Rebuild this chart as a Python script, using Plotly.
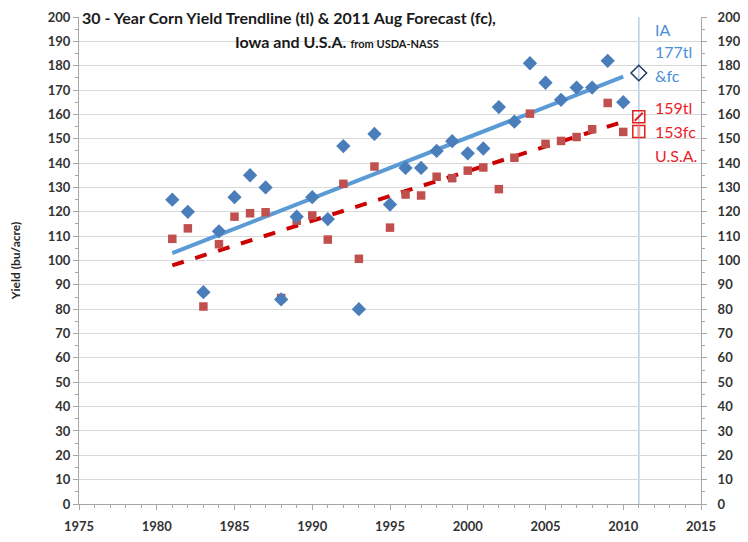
import plotly.graph_objects as go

years = list(range(1981, 2011))
iowa = [125, 120, 87, 112, 126, 135, 130, 84, 118, 126, 117, 147, 80, 152, 123,
        138, 138, 145, 149, 144, 146, 163, 157, 181, 173, 166, 171, 171, 182, 165]
usa = [108.9, 113.2, 81.1, 106.7, 118.0, 119.4, 119.8, 84.6, 116.3, 118.5, 108.6,
       131.5, 100.7, 138.6, 113.5, 127.1, 126.7, 134.4, 133.8, 136.9, 138.2, 129.3,
       142.2, 160.3, 147.9, 149.1, 150.7, 153.9, 164.7, 152.8]

trend_years = [1981, 2010]
iowa_trend = [103, 175.5]
usa_trend = [98, 157]

fc_year = 2011
iowa_fc = 177
usa_tl = 159
usa_fc = 153

FONT = "Lato"
fig = go.Figure()

# vertical 2011 line
fig.add_shape(type="line", x0=fc_year, x1=fc_year, y0=-4, y1=200, xref="x", yref="y",
              line=dict(color="#b8cce4", width=1.5), layer="below")

fig.add_trace(go.Scatter(x=trend_years, y=iowa_trend, mode="lines",
                         line=dict(color="#5b9bd5", width=4), showlegend=False))
fig.add_trace(go.Scatter(x=trend_years, y=usa_trend, mode="lines",
                         line=dict(color="#cc0000", width=4, dash="dash"), showlegend=False))
fig.add_trace(go.Scatter(x=years, y=usa, mode="markers",
                         marker=dict(symbol="square", size=8.5, color="#c0504d"), showlegend=False))
fig.add_trace(go.Scatter(x=years, y=iowa, mode="markers",
                         marker=dict(symbol="diamond", size=11, color="#4a7ebb"), showlegend=False))

# 2011 markers
fig.add_trace(go.Scatter(x=[fc_year], y=[iowa_fc], mode="markers",
                         marker=dict(symbol="diamond-open", size=12, color="#1f3864",
                                     line=dict(width=1.5)), showlegend=False))
fig.add_trace(go.Scatter(x=[fc_year, fc_year], y=[usa_tl, usa_fc], mode="markers",
                         marker=dict(symbol="square-open", size=12, color="#e02020",
                                     line=dict(width=1.5)), showlegend=False))
fig.add_trace(go.Scatter(x=[fc_year], y=[usa_tl], mode="markers",
                         marker=dict(symbol="line-ne", size=8, color="#e02020",
                                     line=dict(width=2, color="#e02020")), showlegend=False))
fig.add_trace(go.Scatter(x=[fc_year], y=[usa_fc], mode="markers",
                         marker=dict(symbol="line-ns", size=8, color="#e8a0a0",
                                     line=dict(width=3, color="#e8a0a0")), showlegend=False))
# dummy for right axis
fig.add_trace(go.Scatter(x=[1975], y=[0], yaxis="y2", mode="markers",
                         marker=dict(opacity=0), showlegend=False, hoverinfo="skip"))

tickfont = dict(family=FONT, size=13, color="#333333", weight="bold")

fig.update_layout(
    width=740, height=534,
    margin=dict(l=71, r=47, t=9, b=38, autoexpand=False),
    paper_bgcolor="white", plot_bgcolor="white",
    font=dict(family=FONT),
    xaxis=dict(range=[1975, 2015], dtick=5, tick0=1975, showgrid=False, zeroline=False,
               ticks="outside", ticklen=5, tickcolor="#a6a6a6", ticklabelstandoff=5,
               showline=True, linecolor="#a6a6a6", linewidth=1,
               minor=dict(dtick=1, ticks="outside", ticklen=3, tickcolor="#a6a6a6"),
               tickfont=tickfont),
    yaxis=dict(range=[0, 200], dtick=10, showgrid=True, gridcolor="#d9d9d9", gridwidth=1,
               zeroline=False, ticks="outside", ticklen=5, tickcolor="#a6a6a6",
               showline=True, linecolor="#a6a6a6",
               minor=dict(dtick=5, ticks="outside", ticklen=3, tickcolor="#a6a6a6"),
               tickfont=tickfont,
               title=dict(text="Yield (bu/acre)", standoff=26,
                          font=dict(family=FONT, size=12, color="#262626", weight="bold"))),
    yaxis2=dict(range=[0, 200], dtick=10, overlaying="y", side="right", showgrid=False,
                zeroline=False, ticks="outside", ticklen=5, tickcolor="#a6a6a6",
                ticklabelstandoff=8,
                showline=True, linecolor="#a6a6a6",
                minor=dict(dtick=5, ticks="outside", ticklen=3, tickcolor="#a6a6a6"),
                tickfont=tickfont),
)

ann = []
ann.append(dict(x=0.002, y=200, xref="paper", yref="y", xanchor="left", yanchor="middle",
                text="<b>30 - Year Corn Yield Trendline (tl) &amp; 2011 Aug Forecast (fc),</b>",
                showarrow=False, font=dict(family=FONT, size=16, color="#1a1a1a")))
ann.append(dict(x=1991.6, y=190, xref="x", yref="y", xanchor="center", yanchor="middle",
                text="<b>Iowa and U.S.A.</b> <b><span style='font-size:11px'>from USDA-NASS</span></b>",
                showarrow=False, font=dict(family=FONT, size=16, color="#1a1a1a")))
right_labels = [("IA", 195, "#4a90d9"), ("177tl", 186, "#4a90d9"), ("&amp;fc", 176, "#4a90d9"),
                ("159tl", 163, "#f0202a"), ("153fc", 153, "#f0202a"), ("U.S.A.", 143, "#f0202a")]
for t, yv, c in right_labels:
    ann.append(dict(x=2011.9, y=yv, xref="x", yref="y", xanchor="left", yanchor="middle",
                    text=t, showarrow=False, font=dict(family=FONT, size=16, color=c)))
fig.update_layout(annotations=ann)

fig.write_html("out.html")
